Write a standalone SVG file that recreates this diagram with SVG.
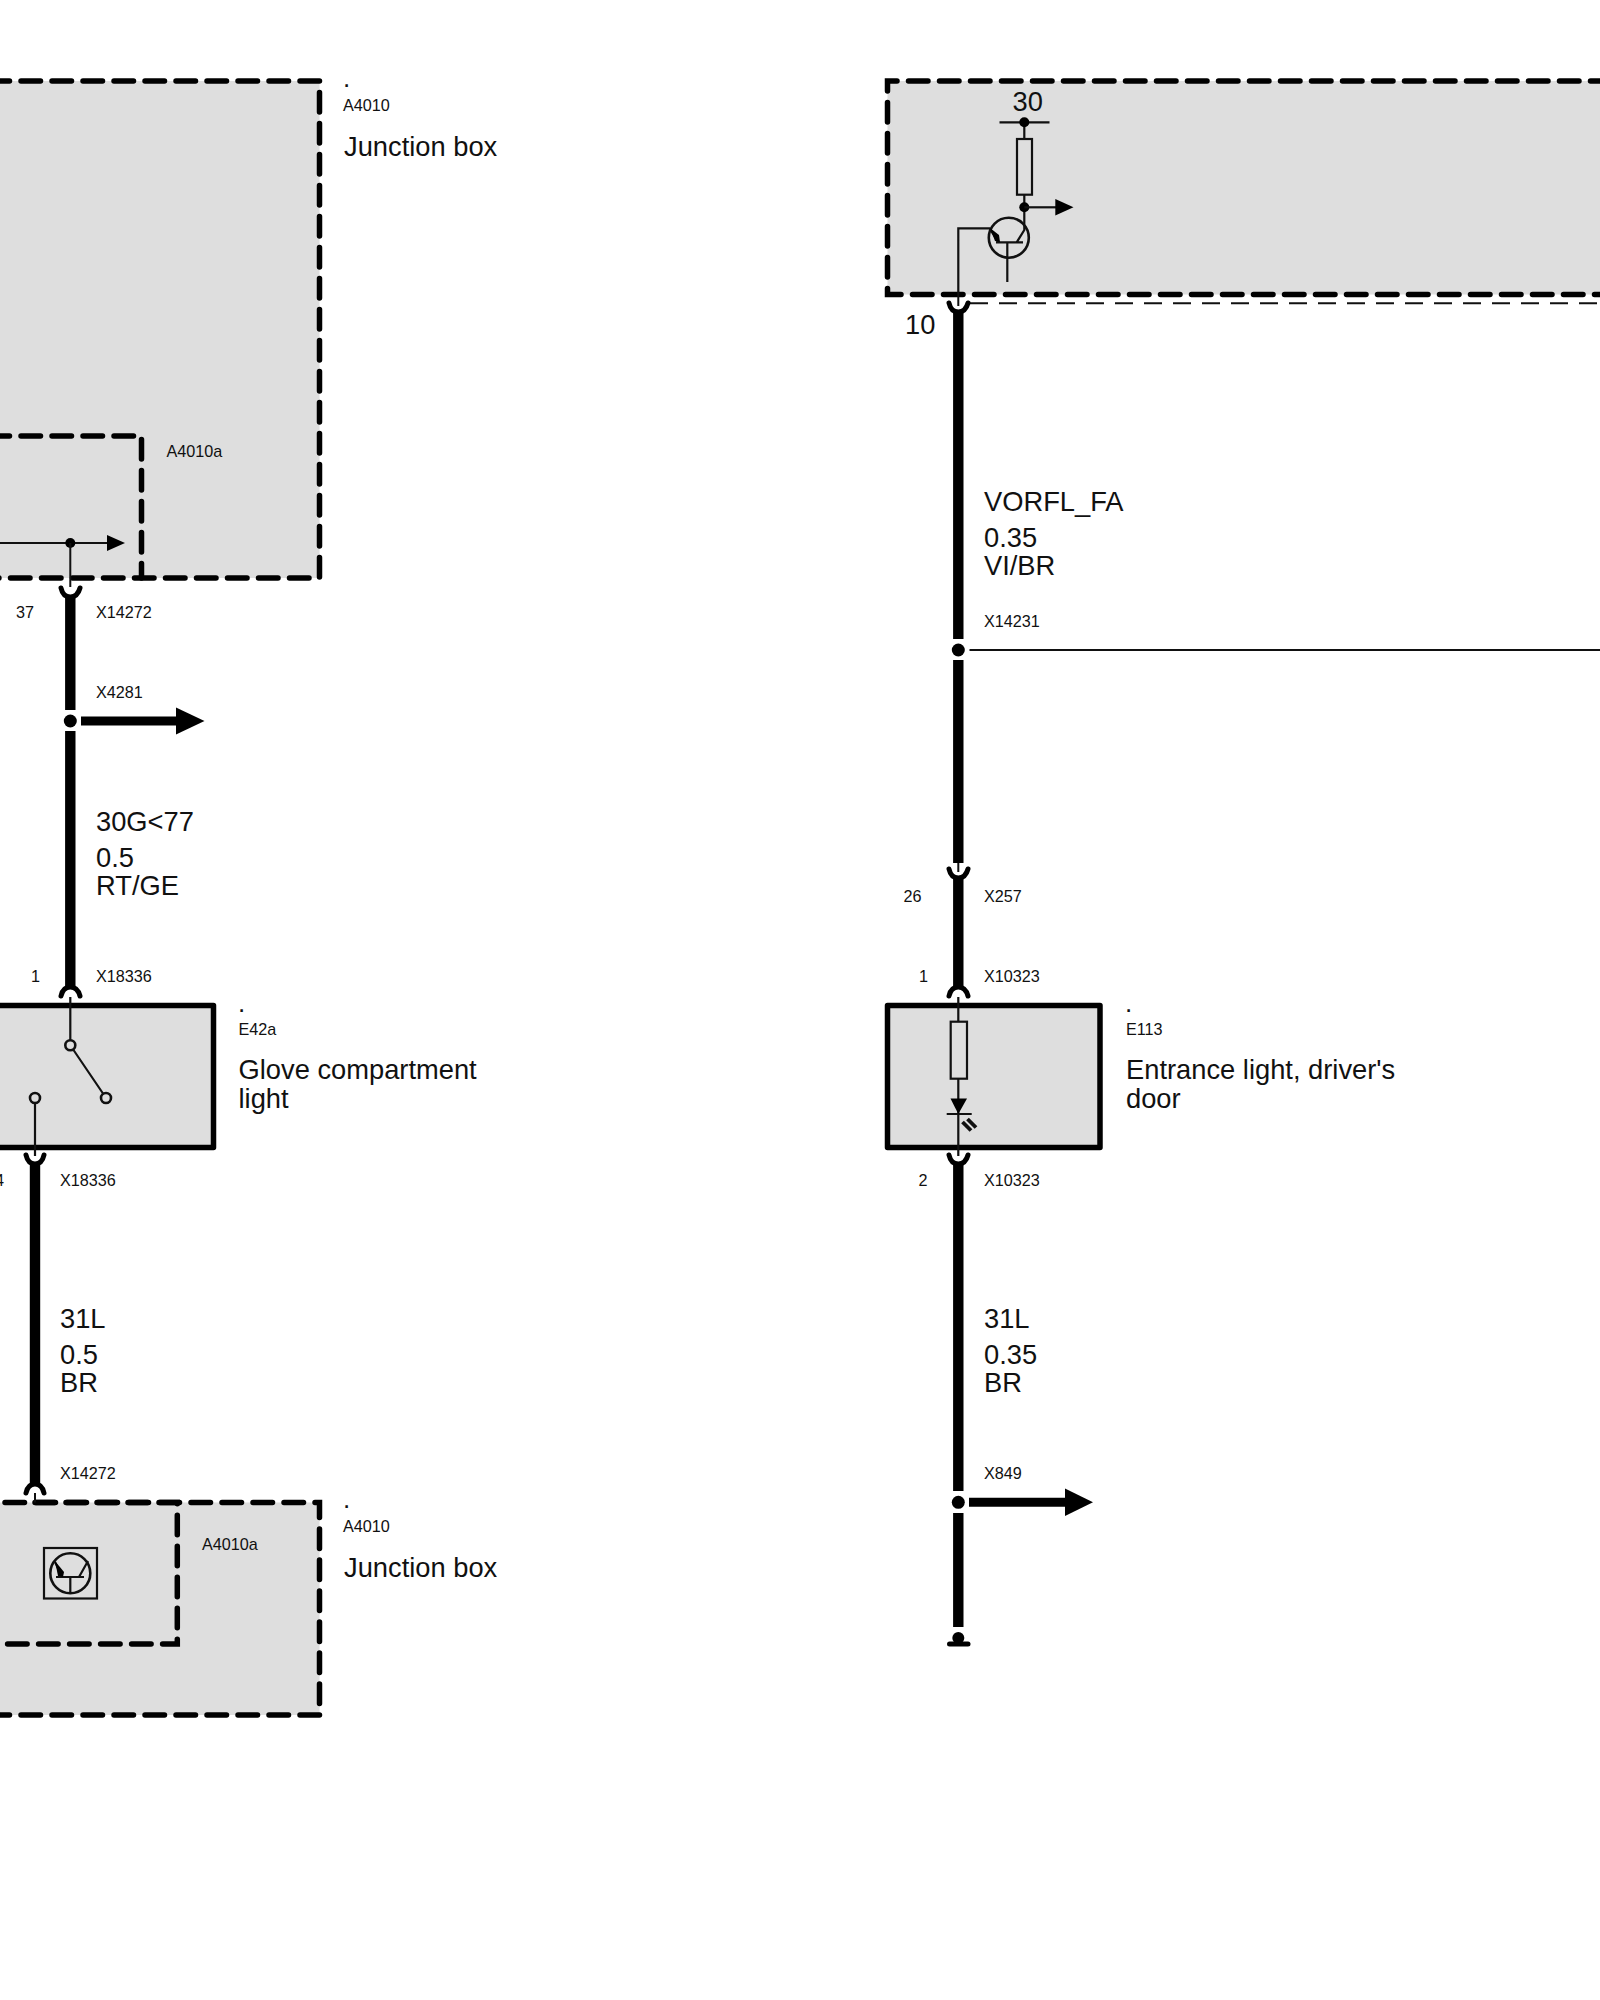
<svg xmlns="http://www.w3.org/2000/svg" width="1600" height="2000" viewBox="0 0 1600 2000">
<style>
text{font-family:"Liberation Sans",Arial,sans-serif;fill:#111}
.s{font-size:16.2px}.l{font-size:27.3px}.d{font-size:26px}
.panel{fill:#dedede;stroke:none}
.dash{fill:none;stroke:#000;stroke-width:5.5;stroke-dasharray:19.5 11.5;stroke-linecap:round;stroke-linejoin:miter}
.solid{fill:#dedede;stroke:#000;stroke-width:5.5;stroke-linejoin:round}
.thin{fill:none;stroke:#111;stroke-width:2}
.sym{fill:none;stroke:#111;stroke-width:2.2}
.ring{fill:#dedede;stroke:#111;stroke-width:2.6}
.wire{fill:none;stroke:#000;stroke-width:10.4}
.hook{fill:none;stroke:#000;stroke-width:5;stroke-linecap:round}
.fill{fill:#000;stroke:none}
</style>
<g id="a4010-top">
<rect class="panel" x="-10" y="81" width="329.500" height="497"/>
<path class="dash" d="M-10 81H319.500V578H-10"/>
<path class="dash" d="M-10 436H141.500V578"/>
<path class="thin" d="M0 543H108"/>
<polygon class="fill" points="107,535 125,543 107,551"/>
<circle class="fill" cx="70.300" cy="543" r="5"/>
<text class="d" x="343" y="87">.</text>
<text class="s" x="343" y="111">A4010</text>
<text class="l" x="344" y="156">Junction box</text>
<text class="s" x="166.500" y="457">A4010a</text>
</g>
<g id="e42a">
<rect class="solid" x="-10" y="1005.500" width="223.500" height="142"/>
<path class="sym" d="M70.300 997V1040M73.500 1050L103 1093.500M35 1103V1156"/>
<circle class="ring" cx="70.300" cy="1045.300" r="5"/>
<circle class="ring" cx="106" cy="1098" r="5"/>
<circle class="ring" cx="35" cy="1098" r="5"/>
<text class="d" x="238" y="1012">.</text>
<text class="s" x="238.500" y="1035">E42a</text>
<text class="l" x="238.500" y="1079">Glove compartment</text>
<text class="l" x="238.500" y="1108">light</text>
</g>
<g id="a4010-bottom">
<rect class="panel" x="-10" y="1502.500" width="329.500" height="212.500"/>
<path class="dash" d="M5 1502.500H319.500V1715H-10"/>
<path class="dash" d="M35 1502.500H177.300V1644H-10"/>
<rect x="44" y="1548" width="53" height="50.500" fill="none" stroke="#111" stroke-width="2.200"/>
<circle cx="70.300" cy="1573.300" r="20" fill="none" stroke="#111" stroke-width="2.600"/>
<path class="sym" d="M56 1577H84M70.300 1577V1594M88 1561L79 1577M55 1562L62 1577"/>
<polygon class="fill" points="55,1561 64,1572 63,1577 58,1576"/>
<text class="s" x="202" y="1550">A4010a</text>
<text class="d" x="343" y="1508">.</text>
<text class="s" x="343" y="1532">A4010</text>
<text class="l" x="344" y="1577">Junction box</text>
</g>
<g id="control-unit">
<rect class="panel" x="887.500" y="81" width="722" height="213.500"/>
<path class="dash" d="M1610 81H887.500V294.500H1610"/>
<path class="thin" d="M970 303.300H1600" stroke-dasharray="18 11"/>
<path class="sym" d="M999.500 122.300H1049.500M1024.300 122.300V139M1024.300 194.700V230L1016.700 242.300M996 242.300H1023M1007.300 242.300V282M958.300 294V228.300H989.500L998.300 242"/>
<rect class="sym" x="1017" y="139" width="15" height="55.700"/>
<circle class="fill" cx="1024.300" cy="122.300" r="5"/>
<circle class="fill" cx="1024.300" cy="207.300" r="5"/>
<path class="sym" d="M1024.300 207.300H1056"/>
<polygon class="fill" points="1055.300,199 1073.500,207.300 1055.300,215.500"/>
<circle cx="1008.800" cy="237.700" r="20" fill="none" stroke="#111" stroke-width="2.600"/>
<polygon class="fill" points="990,228 999,235 1000,242 995,241"/>
<text class="l" x="1012.500" y="111">30</text>
<text class="l" x="905" y="334">10</text>
</g>
<g id="e113">
<rect class="solid" x="887.500" y="1005.500" width="212.500" height="142"/>
<path class="sym" d="M958.300 997V1021.700M958.300 1078.700V1156M946.700 1114H971.700"/>
<rect class="sym" x="950.700" y="1021.700" width="16.300" height="57"/>
<polygon class="fill" points="950.500,1098.500 967,1098.500 958.300,1114"/>
<path d="M962.500 1122L971 1130.500M967.500 1119L976 1127.500" fill="none" stroke="#111" stroke-width="3.800"/>
<text class="d" x="1125" y="1012">.</text>
<text class="s" x="1126" y="1035">E113</text>
<text class="l" x="1126" y="1079">Entrance light, driver's</text>
<text class="l" x="1126" y="1108">door</text>
</g>
<g id="connectors">
<path class="wire" d="M70.300 597V710M70.300 731V987"/>
<path class="wire" d="M35 1163V1484"/>
<path class="wire" d="M958.300 312V639M958.300 660V863M958.300 878V987"/>
<path class="wire" d="M958.300 1164V1491M958.300 1513V1627"/>
<path class="thin" d="M70.300 543V587M35 1493V1502.500M958.300 294V306M958.300 863V872"/>
<path class="hook" d="M61 588Q63 597 70.300 597Q77.500 597 80 588"/>
<path class="hook" d="M61 996Q63 987 70.300 987Q77.500 987 80 996"/>
<path class="hook" d="M26 1155Q28 1164 35 1164Q42 1164 44 1155"/>
<path class="hook" d="M26 1493Q28 1484 35 1484Q42 1484 44 1493"/>
<path class="hook" d="M949 303Q951 312 958.300 312Q965.500 312 968 303"/>
<path class="hook" d="M949 869Q951 878 958.300 878Q965.500 878 968 869"/>
<path class="hook" d="M949 996Q951 987 958.300 987Q965.500 987 968 996"/>
<path class="hook" d="M949 1155Q951 1164 958.300 1164Q965.500 1164 968 1155"/>
<circle class="fill" cx="70.300" cy="721" r="6.500"/>
<path d="M81 721H178" fill="none" stroke="#000" stroke-width="9"/>
<polygon class="fill" points="176,707.500 204.500,721 176,734.500"/>
<circle class="fill" cx="958.300" cy="650" r="6.500"/>
<path class="thin" d="M969.500 650H1600"/>
<circle class="fill" cx="958.300" cy="1502.300" r="6.500"/>
<path d="M969 1502.300H1067" fill="none" stroke="#000" stroke-width="9"/>
<polygon class="fill" points="1065,1488.500 1093,1502.300 1065,1516"/>
<circle class="fill" cx="958.300" cy="1638" r="6"/>
<path d="M949.500 1644H968" fill="none" stroke="#000" stroke-width="5" stroke-linecap="round"/>
</g>
<g id="labels">
<text class="s" x="16" y="618">37</text>
<text class="s" x="96" y="618">X14272</text>
<text class="s" x="96" y="698">X4281</text>
<text class="l" x="96" y="831">30G&lt;77</text>
<text class="l" x="96" y="867">0.5</text>
<text class="l" x="96" y="895">RT/GE</text>
<text class="s" x="31" y="982">1</text>
<text class="s" x="96" y="982">X18336</text>
<text class="s" x="-5" y="1186">4</text>
<text class="s" x="60" y="1186">X18336</text>
<text class="l" x="60" y="1328">31L</text>
<text class="l" x="60" y="1364">0.5</text>
<text class="l" x="60" y="1392">BR</text>
<text class="s" x="60" y="1479">X14272</text>
<text class="l" x="984" y="511">VORFL_FA</text>
<text class="l" x="984" y="547">0.35</text>
<text class="l" x="984" y="575">VI/BR</text>
<text class="s" x="984" y="627">X14231</text>
<text class="s" x="903.500" y="902">26</text>
<text class="s" x="984" y="902">X257</text>
<text class="s" x="919" y="982">1</text>
<text class="s" x="984" y="982">X10323</text>
<text class="s" x="918.500" y="1186">2</text>
<text class="s" x="984" y="1186">X10323</text>
<text class="l" x="984" y="1328">31L</text>
<text class="l" x="984" y="1364">0.35</text>
<text class="l" x="984" y="1392">BR</text>
<text class="s" x="984" y="1479">X849</text>
</g>
</svg>
